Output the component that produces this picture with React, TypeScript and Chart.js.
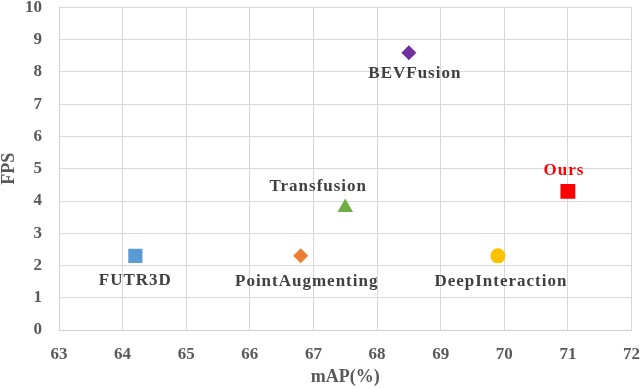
import React, { useEffect, useRef } from "react";
import { Chart, registerables } from "chart.js";

Chart.register(...registerables);

const methods = ["FUTR3D", "PointAugmenting", "Transfusion", "BEVFusion", "DeepInteraction", "Ours"];
const mapValues = [64.2, 66.8, 67.5, 68.5, 69.9, 71.0];
const fpsValues = [2.3, 2.3, 3.8, 8.6, 2.3, 4.3];
const xRange = [63, 72];
const yRange = [0, 10];
const xTitle = "mAP(%)";
const yTitle = "FPS";

const colors = ["#5B9BD5", "#ED7D31", "#70AD47", "#7030A0", "#FFC000", "#FF0000"];
const pointStyles = ["rect", "rectRot", "triangle", "rectRot", "circle", "rect"];
const pointRadii = [10, 7.5, 9, 7.5, 7.5, 10.5];
const labelColors = ["#404040", "#404040", "#404040", "#404040", "#404040", "#FF0000"];
const labelOffsets = [
  [0, 25],
  [6, 26],
  [-27, -21],
  [6, 21],
  [3, 26],
  [-4, -21],
];

const FONT = "'Liberation Serif', 'Times New Roman', serif";

const labelPlugin = {
  id: "pointLabels",
  afterDatasetsDraw(chart: any) {
    const ctx = chart.ctx;
    ctx.save();
    ctx.font = `bold 17px ${FONT}`;
    ctx.textAlign = "center";
    ctx.textBaseline = "middle";
    try {
      (ctx as any).letterSpacing = "1px";
    } catch (e) {}
    methods.forEach((name, i) => {
      const meta = chart.getDatasetMeta(i);
      const pt = meta.data[0];
      if (!pt) return;
      ctx.fillStyle = labelColors[i];
      ctx.fillText(name, pt.x + labelOffsets[i][0], pt.y + labelOffsets[i][1]);
    });
    ctx.restore();
  },
};

export default function App() {
  const ref = useRef<HTMLCanvasElement>(null);

  useEffect(() => {
    if (!ref.current) return;
    const datasets = methods.map((name, i) => ({
      label: name,
      data: [{ x: mapValues[i], y: fpsValues[i] }],
      pointStyle: pointStyles[i] as any,
      pointRadius: pointRadii[i],
      pointBackgroundColor: colors[i],
      pointBorderColor: colors[i],
      pointBorderWidth: 0,
      showLine: false,
    }));
    const chart = new Chart(ref.current, {
      type: "scatter",
      data: { datasets },
      options: {
        responsive: false,
        animation: false,
        events: [],
        layout: { padding: { top: 1, right: 4, left: 0, bottom: 0 } },
        plugins: {
          legend: { display: false },
          tooltip: { enabled: false },
        },
        scales: {
          x: {
            type: "linear",
            min: xRange[0],
            max: xRange[1],
            afterFit: (s: any) => {
              s.height = 59;
              s.paddingLeft = 0;
              s.paddingRight = 0;
            },
            grid: { color: "#d9d9d9", lineWidth: 1, drawTicks: false },
            border: { color: "#d0d0d0" },
            ticks: {
              stepSize: 1,
              padding: 14,
              color: "#595959",
              font: { family: FONT, size: 17, weight: "bold" },
            },
            title: {
              display: true,
              text: xTitle,
              color: "#595959",
              font: { family: FONT, size: 18, weight: "bold", lineHeight: 1 },
              padding: { top: 0, bottom: 3 },
            },
          },
          y: {
            type: "linear",
            min: yRange[0],
            max: yRange[1],
            afterFit: (s: any) => {
              s.width = 59;
              s.paddingTop = 0;
              s.paddingBottom = 0;
            },
            grid: { color: "#d9d9d9", lineWidth: 1, drawTicks: false },
            border: { color: "#d0d0d0" },
            ticks: {
              stepSize: 1,
              padding: 17,
              color: "#595959",
              font: { family: FONT, size: 17, weight: "bold" },
            },
            title: {
              display: true,
              text: yTitle,
              color: "#595959",
              font: { family: FONT, size: 18, weight: "bold", lineHeight: 1 },
              padding: { top: 0, bottom: 0 },
            },
          },
        },
      },
      plugins: [labelPlugin],
    });
    return () => chart.destroy();
  }, []);

  return (
    <div
      style={{
        position: "absolute",
        left: 0,
        top: 0,
        width: 640,
        height: 389,
        overflow: "hidden",
        background: "#fff",
      }}
    >
      <canvas
        ref={ref}
        width={642}
        height={392}
        style={{ display: "block", marginTop: -3 }}
      />
    </div>
  );
}
